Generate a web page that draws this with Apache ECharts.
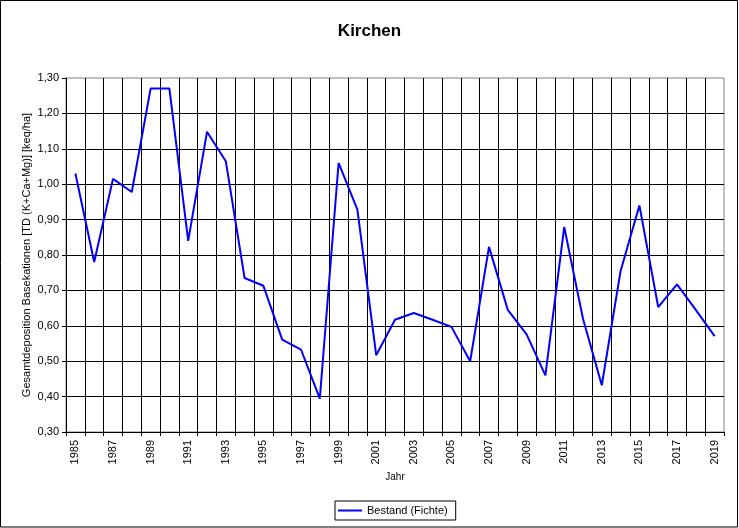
<!DOCTYPE html>
<html>
<head>
<meta charset="utf-8">
<script src="https://cdn.jsdelivr.net/npm/echarts@6/dist/echarts.min.js"></script>
<style>
html,body{margin:0;padding:0;background:#fff;}
#chart{width:739px;height:528px;}
</style>
</head>
<body>
<div id="chart"></div>
<script>
const years = ['1985','1986','1987','1988','1989','1990','1991','1992','1993','1994','1995','1996','1997','1998','1999','2000','2001','2002','2003','2004','2005','2006','2007','2008','2009','2010','2011','2012','2013','2014','2015','2016','2017','2018','2019'];
const bestandFichte = [1.03,0.78,1.015,0.978,1.27,1.27,0.84,1.148,1.065,0.735,0.713,0.561,0.533,0.394,1.06,0.928,0.517,0.617,0.636,0.617,0.597,0.50,0.823,0.645,0.576,0.46,0.879,0.62,0.432,0.755,0.94,0.653,0.717,0.645,0.571];
const titleText = 'Kirchen';
const yAxisName = 'Gesamtdeposition Basekationen [TD (K+Ca+Mg)] [keq/ha]';
const xAxisName = 'Jahr';
const seriesName = 'Bestand (Fichte)';

const chart = echarts.init(document.getElementById('chart'), null, {renderer:'canvas'});
const font = 'Liberation Sans, Arial, sans-serif';
chart.setOption({
  animation: false,
  backgroundColor: '#fff',
  title: {
    text: titleText, left: 'center', top: 23, padding: 0,
    textStyle: {fontFamily: font, fontSize: 17, fontWeight: 'bold', color: '#000'}
  },
  grid: {
    left: 66, top: 78, width: 658, height: 354,
    show: true, borderColor: '#808080', borderWidth: 1, backgroundColor: '#fff'
  },
  legend: {
    data: [seriesName], left: 335, top: 501,
    orient: 'horizontal',
    icon: 'rect', itemWidth: 24, itemHeight: 2,
    padding: [4, 8, 4, 3],
    borderColor: '#000', borderWidth: 1,
    textStyle: {fontFamily: font, fontSize: 11, color: '#000'}
  },
  xAxis: {
    type: 'category', data: years, boundaryGap: true,
    name: xAxisName, nameLocation: 'middle', nameGap: 36,
    nameTextStyle: {fontFamily: font, fontSize: 10, color: '#000'},
    axisLine: {show: true, lineStyle: {color: '#000', width: 1}},
    axisTick: {show: true, interval: 0, length: 4, lineStyle: {color: '#000'}},
    axisLabel: {interval: 1, rotate: 90, margin: 8, fontFamily: font, fontSize: 11, color: '#000'},
    splitLine: {show: true, interval: 0, showMinLine: false, showMaxLine: false, lineStyle: {color: '#000', width: 1}}
  },
  yAxis: {
    type: 'value', min: 0.3, max: 1.3, interval: 0.1,
    name: yAxisName, nameLocation: 'middle', nameGap: 34, nameMoveOverlap: false,
    nameTextStyle: {fontFamily: font, fontSize: 11, color: '#000'},
    axisLine: {show: true, lineStyle: {color: '#000', width: 1}},
    axisTick: {show: true, length: 4, lineStyle: {color: '#000'}},
    axisLabel: {margin: 7, fontFamily: font, fontSize: 11, color: '#000',
      formatter: v => v.toFixed(2).replace('.', ',')},
    splitLine: {show: true, showMinLine: false, showMaxLine: false, lineStyle: {color: '#000', width: 1}}
  },
  series: [{
    name: seriesName, type: 'line', data: bestandFichte,
    showSymbol: false, symbol: 'none',
    lineStyle: {color: '#0000ff', width: 2}, itemStyle: {color: '#0000ff'}
  }],
  graphic: [{
    type: 'rect', shape: {x: 0.5, y: 0.5, width: 737, height: 526.5},
    style: {fill: null, stroke: '#000', lineWidth: 1}, silent: true, z: 100
  }]
});
</script>
</body>
</html>
